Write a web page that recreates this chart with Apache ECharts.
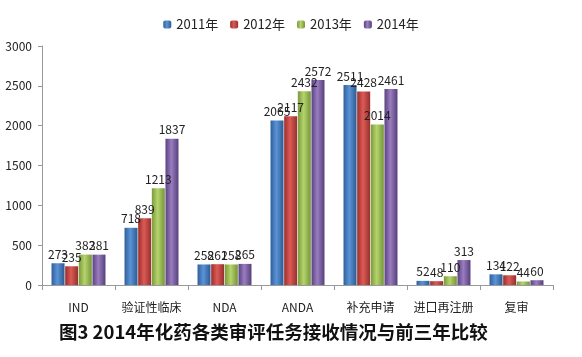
<!DOCTYPE html>
<html><head><meta charset="utf-8">
<script src="https://cdn.jsdelivr.net/npm/echarts@6/dist/echarts.min.js"></script>
<style>html,body{margin:0;padding:0;background:#fff}#c{width:582px;height:357px}</style>
</head><body><div id="c"></div>
<script>
const categories = ['IND','验证性临床','NDA','ANDA','补充申请','进口再注册','复审'];
const seriesNames = ['2011年','2012年','2013年','2014年'];
const v2011 = [273,718,258,2065,2511,52,134];
const v2012 = [235,839,261,2117,2428,48,122];
const v2013 = [382,1213,258,2432,2014,110,44];
const v2014 = [381,1837,265,2572,2461,313,60];
const yTicks = [0,500,1000,1500,2000,2500,3000];
const values = [v2011,v2012,v2013,v2014];
const colors = [['#2f5f9a','#5b93d6','#2c5a92'],['#9a2e2b','#dd5a56','#94302d'],['#7a9a3c','#b5d46c','#75943a'],['#5a4280','#9a7dc0','#553f7a']];
const font = '"Noto Sans CJK SC","DejaVu Sans",sans-serif';
const chart = echarts.init(document.getElementById('c'));
chart.setOption({
  animation:false,
  backgroundColor:'#fff',
  title:{text:'图3 2014年化药各类审评任务接收情况与前三年比较',left:54,top:318,
    textStyle:{fontFamily:font,fontSize:18.5,fontWeight:'bold',color:'#111'}},
  legend:{data:seriesNames,top:13,left:'center',itemWidth:8,itemHeight:8,itemGap:12,
    textStyle:{fontFamily:font,fontSize:13,color:'#222'}},
  grid:{left:42,right:29,top:46,bottom:72},
  xAxis:{type:'category',data:categories,
    axisLine:{lineStyle:{color:'#999'}},
    axisTick:{show:true,length:5,lineStyle:{color:'#999'}},
    axisLabel:{interval:0,fontFamily:font,fontSize:12,color:'#222',margin:16}},
  yAxis:{type:'value',min:0,max:3000,interval:500,
    axisLine:{show:true,lineStyle:{color:'#999'}},
    axisTick:{show:true,length:4,lineStyle:{color:'#999'}},
    splitLine:{show:false},
    axisLabel:{fontFamily:font,fontSize:12,color:'#222',margin:10,
      formatter:v=>yTicks.includes(v)?String(v):''}},
  series: seriesNames.map((n,i)=>({
    name:n,type:'bar',data:values[i],barWidth:13,barGap:'5%',
    itemStyle:{color:new echarts.graphic.LinearGradient(0,0,1,0,[
      {offset:0,color:colors[i][0]},{offset:0.45,color:colors[i][1]},{offset:1,color:colors[i][2]}])},
    label:{show:true,position:'top',distance:3,fontFamily:font,fontSize:12,color:'#222'}
  }))
});
</script></body></html>
